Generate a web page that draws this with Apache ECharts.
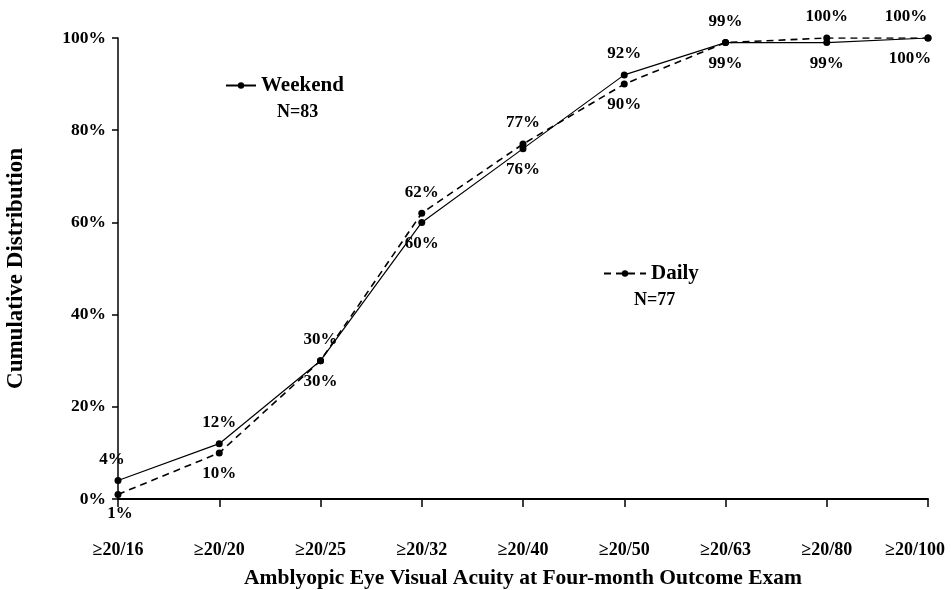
<!DOCTYPE html>
<html>
<head>
<meta charset="utf-8">
<script src="https://cdn.jsdelivr.net/npm/echarts@6/dist/echarts.min.js"></script>
<style>html,body{margin:0;padding:0;background:#fff}#c{width:951px;height:590px}</style>
</head>
<body>
<div id="c"></div>
<script>
var categories = ['≥20/16','≥20/20','≥20/25','≥20/32','≥20/40','≥20/50','≥20/63','≥20/80','≥20/100'];
var weekend = [4, 12, 30, 60, 76, 92, 99, 99, 100];
var daily = [1, 10, 30, 62, 77, 90, 99, 100, 100];
var yTicks = [0, 20, 40, 60, 80, 100];
var weekendLabelPos = ['top','top','top','bottom','bottom','top','top','bottom','top'];
var dailyLabelPos = ['bottom','bottom','bottom','top','top','bottom','bottom','top','bottom'];

var FONT = 'Liberation Serif';
function mk(vals, pos) {
  return vals.map(function (v, i) {
    var off = [0, 0];
    if (i === 0) off = pos[i] === 'top' ? [-6, 0] : [2, -2];
    if (i === 8) off = pos[i] === 'top' ? [-22, 0] : [-18, 0];
    return { value: v, label: { position: pos[i], offset: off } };
  });
}
var labelStyle = {
  show: true, formatter: '{c}%', fontFamily: FONT, fontWeight: 'bold', fontSize: 17, color: '#000', distance: 9
};
var chart = echarts.init(document.getElementById('c'), null, { renderer: 'canvas' });
chart.setOption({
  animation: false,
  backgroundColor: '#fff',
  grid: { left: 118, right: 23, top: 38, bottom: 91, outerBoundsMode: 'none', containLabel: false },
  xAxis: {
    type: 'category', data: categories, boundaryGap: false,
    name: 'Amblyopic Eye Visual Acuity at Four-month Outcome Exam',
    nameLocation: 'middle', nameGap: 68,
    nameTextStyle: { fontFamily: FONT, fontWeight: 'bold', fontSize: 21.5, color: '#000' },
    axisLine: { lineStyle: { color: '#000', width: 2 } },
    axisTick: { show: true, inside: false, length: 8, interval: 0, alignWithLabel: true, lineStyle: { color: '#000', width: 1.5 } },
    axisLabel: {
      interval: 0, hideOverlap: false,
      margin: 42, fontFamily: FONT, fontWeight: 'bold', fontSize: 18, color: '#000',
      formatter: function (v, i) { return i === categories.length - 1 ? '{last|' + v + '}' : v; },
      rich: { last: { fontFamily: FONT, fontWeight: 'bold', fontSize: 18, color: '#000', padding: [0, 26, 0, 0] } }
    },
    splitLine: { show: false }
  },
  yAxis: {
    type: 'value', min: 0, max: 100, interval: 20,
    name: 'Cumulative Distribution',
    nameLocation: 'middle', nameGap: 90, nameRotate: 90,
    nameTextStyle: { fontFamily: FONT, fontWeight: 'bold', fontSize: 23, color: '#000' },
    axisLine: { show: true, lineStyle: { color: '#000', width: 1.5 } },
    axisTick: { show: true, length: 6, lineStyle: { color: '#000', width: 1.5 } },
    axisLabel: {
      margin: 12, fontFamily: FONT, fontWeight: 'bold', fontSize: 17.5, color: '#000',
      formatter: function (v) { return yTicks.indexOf(v) >= 0 ? v + '%' : ''; }
    },
    splitLine: { show: false }
  },
  legend: [
    {
      data: ['Weekend'], left: 220, top: 70, itemWidth: 30, itemHeight: 8, itemGap: 6,
      textStyle: { fontFamily: FONT, fontWeight: 'bold', fontSize: 21, color: '#000', padding: [0, 0, 0, 0] }
    },
    {
      data: ['Daily'], left: 598, top: 258, itemWidth: 42, itemHeight: 8,
      textStyle: { fontFamily: FONT, fontWeight: 'bold', fontSize: 21, color: '#000', padding: [0, 0, 0, 0] }
    }
  ],
  graphic: [
    { type: 'text', left: 277, top: 103, style: { text: 'N=83', font: 'bold 18px "Liberation Serif"', fill: '#000' } },
    { type: 'text', left: 634, top: 291, style: { text: 'N=77', font: 'bold 18px "Liberation Serif"', fill: '#000' } }
  ],
  series: [
    {
      name: 'Weekend', type: 'line', data: mk(weekend, weekendLabelPos),
      symbol: 'circle', symbolSize: 7,
      itemStyle: { color: '#000' },
      lineStyle: { color: '#000', width: 1.2, type: 'solid' },
      label: labelStyle, z: 3
    },
    {
      name: 'Daily', type: 'line', data: mk(daily, dailyLabelPos),
      symbol: 'circle', symbolSize: 7,
      itemStyle: { color: '#000' },
      lineStyle: { color: '#000', width: 1.6, type: [7, 5] },
      label: labelStyle, z: 2
    }
  ]
});
</script>
</body>
</html>
